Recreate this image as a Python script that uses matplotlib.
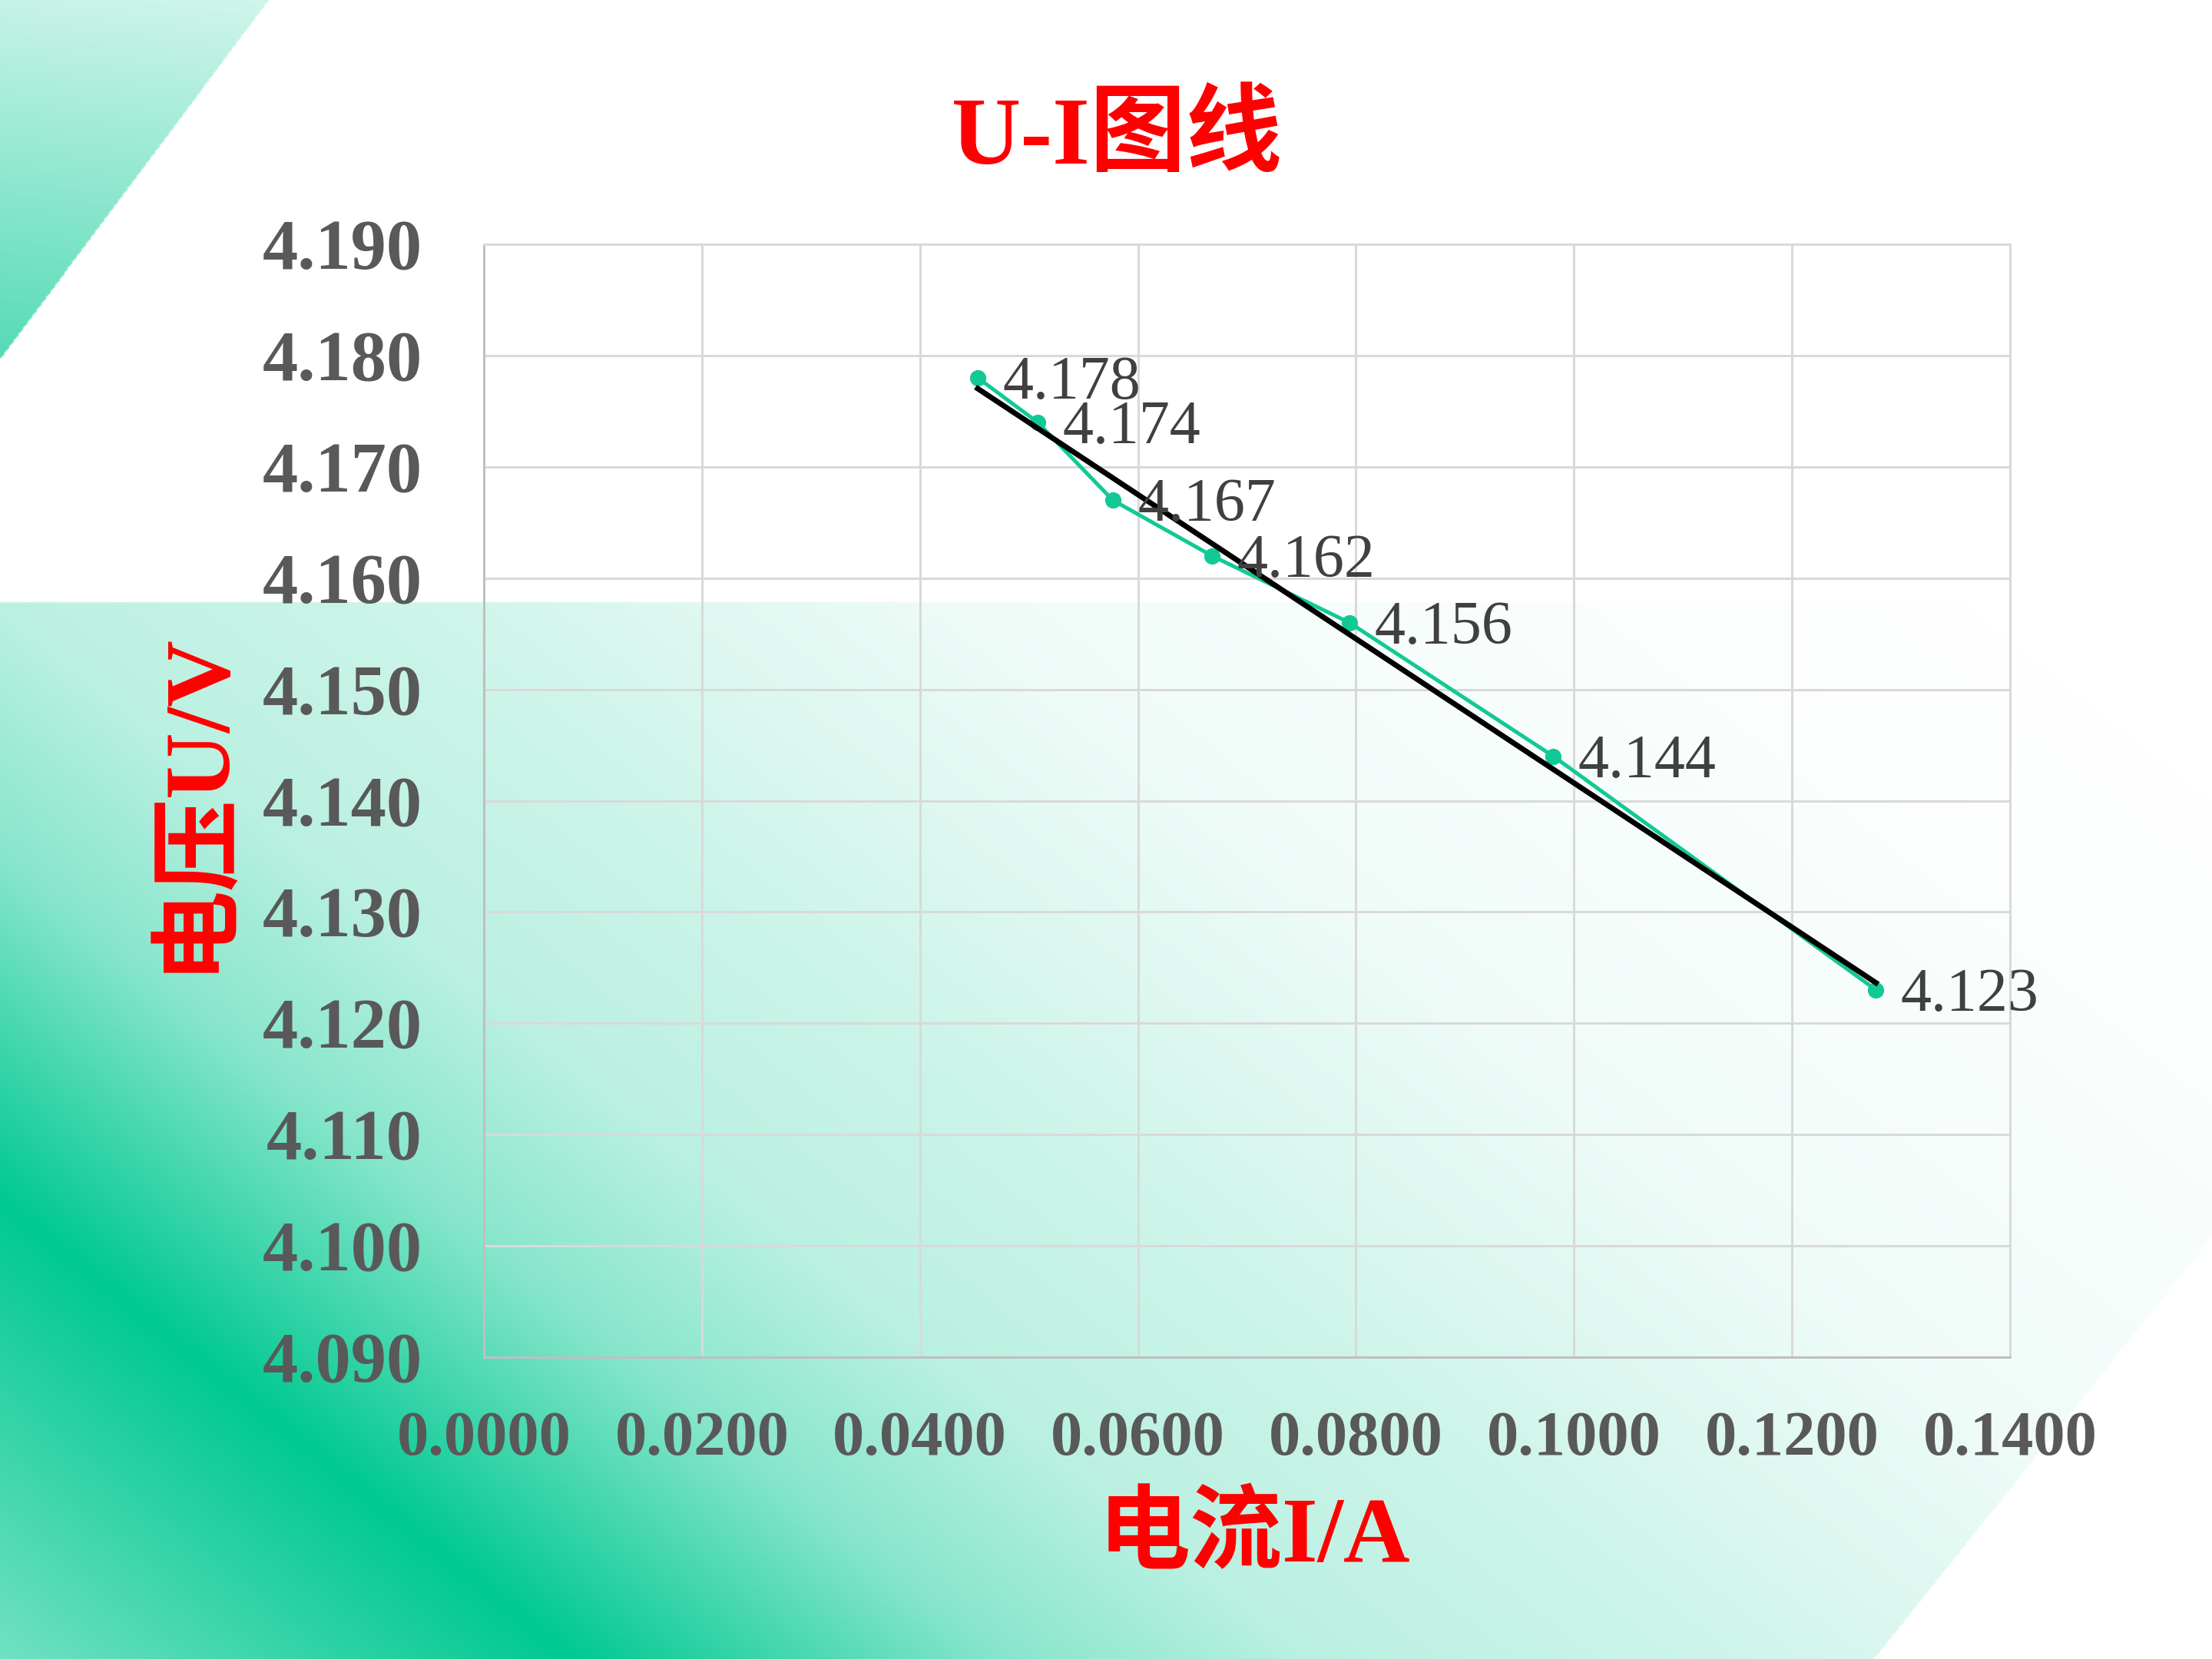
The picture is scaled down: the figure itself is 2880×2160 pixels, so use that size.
import matplotlib
matplotlib.use("Agg")
import matplotlib.pyplot as plt
import numpy as np
from matplotlib.ticker import MultipleLocator, FormatStrFormatter

plt.rcParams['font.family'] = ['Liberation Serif', 'Noto Sans CJK SC', 'DejaVu Sans']

# data
current = [0.0453, 0.0508, 0.0577, 0.0668, 0.0794, 0.0981, 0.1277]   # I/A
voltage = [4.178, 4.174, 4.167, 4.162, 4.156, 4.144, 4.123]          # U/V
labels = ["4.178", "4.174", "4.167", "4.162", "4.156", "4.144", "4.123"]

title = "U-I图线"
xlabel = "电流I/A"
ylabel = "电压U/V"

teal = "#12C996"
red = "#FF0000"
grey = "#595959"

fig = plt.figure(figsize=(16, 12), dpi=180)

# slide background (green gradients), computed at half resolution
W, H = 1440, 1080
xs = (np.arange(W) + 0.5) * 2
ys = (np.arange(H) + 0.5) * 2
X, Y = np.meshgrid(xs, ys)
frac = np.ones_like(X)

d = (1561 + 0.8 * X - Y) * 0.781
fb = np.interp(d, [-700, -450, 0, 350, 600, 900, 1150, 1400, 1700, 2200],
               [0.6, 0.43, 0.0, 0.53, 0.73, 0.8, 0.87, 0.94, 0.97, 1.0])
lower = (Y >= 784) & (Y <= 2160 - 1.25 * (X - 2440))
frac[lower] = fb[lower]

corner = (X / 350 + Y / 468) <= 1
fc = 0.78 - 0.45 * (Y / 468) + 0.04 * (X / 350)
frac[corner] = fc[corner]

green = np.array([0, 201, 145]) / 255
img = green[None, None, :] + (1 - green[None, None, :]) * frac[:, :, None]

bg = fig.add_axes([0, 0, 1, 1], zorder=0)
bg.imshow(img, extent=(0, 2880, 2160, 0), aspect='auto', interpolation='bilinear')
bg.axis('off')

# chart
ax = fig.add_axes([630 / 2880, 1 - 1767 / 2160, 1987 / 2880, 1449 / 2160], zorder=1)
ax.set_facecolor('none')

ax.plot(current, voltage, color=teal, lw=2.0, marker='o', ms=7.5, zorder=3)

k, b = np.polyfit(current, voltage, 1)
fit_x = np.array([current[0], current[-1]])
ax.plot(fit_x, k * fit_x + b, color='black', lw=2.8, zorder=4)

for x, y, t in zip(current, voltage, labels):
    ax.annotate(t, (x, y), xytext=(13, -3), textcoords='offset points',
                ha='left', va='center', fontsize=32, color='#404040', zorder=5)

ax.set_xlim(0, 0.14)
ax.set_ylim(4.09, 4.19)
ax.xaxis.set_major_locator(MultipleLocator(0.02))
ax.yaxis.set_major_locator(MultipleLocator(0.01))
ax.xaxis.set_major_formatter(FormatStrFormatter('%.4f'))
ax.yaxis.set_major_formatter(FormatStrFormatter('%.3f'))

ax.grid(True, color='#D9D9D9', lw=1.2)
ax.set_axisbelow(True)
for side in ['top', 'right']:
    ax.spines[side].set_color('#D9D9D9')
    ax.spines[side].set_linewidth(1.2)
for side in ['left', 'bottom']:
    ax.spines[side].set_color('#BFBFBF')
    ax.spines[side].set_linewidth(1.2)

ax.tick_params(axis='both', length=0, colors=grey)
ax.tick_params(axis='y', pad=32, labelsize=37)
ax.tick_params(axis='x', pad=28, labelsize=33)
for lab in ax.get_xticklabels() + ax.get_yticklabels():
    lab.set_fontweight('bold')

ax.set_title(title, color=red, fontsize=50, fontweight='bold', x=0.415, pad=42)
ax.set_xlabel(xlabel, color=red, fontsize=48, fontweight='bold')
ax.xaxis.set_label_coords(0.505, -0.124)
ax.set_ylabel(ylabel, color=red, fontsize=48, fontweight='bold')
ax.yaxis.set_label_coords(-0.160, 0.5)

plt.savefig('out.png', dpi=180)
